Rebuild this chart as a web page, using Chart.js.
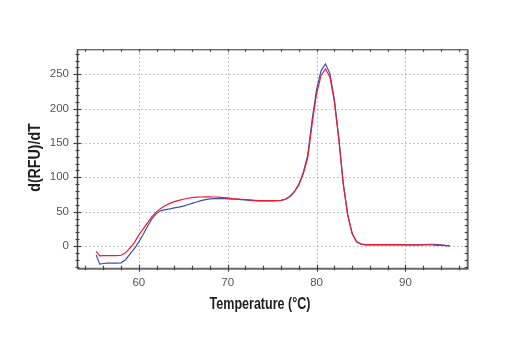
<!DOCTYPE html>
<html>
<head>
<meta charset="utf-8">
<script src="https://cdn.jsdelivr.net/npm/chart.js@4.4.1/dist/chart.umd.min.js"></script>
<style>
  html, body { margin: 0; padding: 0; background: #ffffff; }
  #wrap { width: 520px; height: 350px; position: relative; }
</style>
</head>
<body>
<div id="wrap"><canvas id="c" width="520" height="350"></canvas></div>
<script>
// Temperature (°C)
const temps = [55.2, 55.6,
  56.0, 56.5, 57.0, 57.5, 58.0, 58.5, 59.0, 59.5, 60.0, 60.5, 61.0, 61.5, 62.0, 62.5,
  63.0, 63.5, 64.0, 64.5, 65.0, 65.5, 66.0, 66.5, 67.0, 67.5, 68.0, 68.5, 69.0, 69.5,
  70.0, 70.5, 71.0, 71.5, 72.0, 72.5, 73.0, 73.5, 74.0, 74.5, 75.0, 75.5, 76.0, 76.5,
  77.0, 77.5, 78.0, 78.5, 79.0, 79.5, 80.0, 80.5, 81.0, 81.5, 82.0, 82.5, 83.0, 83.5,
  84.0, 84.5, 85.0,
  85.5, 86.0, 86.5, 87.0, 87.5, 88.0, 88.5, 89.0, 89.5,
  90.0, 90.5, 91.0, 91.5, 92.0, 92.5, 93.0,
  93.5, 94.0, 94.5, 95.0];

// d(RFU)/dT – red trace
const redValues = [-8, -14.5,
  -14, -14, -14, -14, -13.5, -10, -3, 5, 16, 25, 34, 43, 50, 55,
  59, 62, 64.5, 66.5, 68, 69.5, 70.5, 71, 71.3, 71.5, 71.5, 71.3, 71, 70.5,
  70, 69, 68.5, 68, 67.5, 67, 66.5, 66, 66, 66, 66, 66, 66.5, 68,
  72, 79, 89, 105, 128, 178, 222, 248, 258, 246, 210, 155, 90, 45,
  18, 6, 3,
  2, 2, 2, 2, 2, 2, 2, 2, 2,
  1.5, 1.5, 1.5, 1.5, 1.5, 1.5, 1.5,
  1, 1, 0.5, 0];

// d(RFU)/dT – blue trace
const blueValues = [-13, -26.5,
  -25.5, -25, -25, -25, -24.5, -20, -12, -4, 6, 17, 29, 40, 47.5, 51.5,
  53, 54, 55.5, 56.5, 58, 60, 62, 64, 66, 67.5, 68.5, 69, 69, 69,
  68.5, 68, 68, 67.5, 67, 66.5, 66, 65.5, 65.5, 65.5, 65.5, 66, 66.5, 68,
  72, 79, 90, 107, 132, 184, 228, 255, 265, 251, 213, 157, 91, 46,
  18, 6, 2.5,
  1.5, 1.5, 1.5, 1.5, 1.5, 1.5, 1.5, 1.5, 1.5,
  1.5, 1.5, 1.5, 1.5, 2, 2.5, 2.5,
  2, 1.5, 1, 0];

const xMajorTicks = [60, 70, 80, 90];
const yMajorTicks = [0, 50, 100, 150, 200, 250];
const xTitle = 'Temperature (°C)';
const yTitle = 'd(RFU)/dT';

const X_MIN = 53.1, X_MAX = 97.0, Y_MIN = -33.1, Y_MAX = 286.4;
const SANS = "'Liberation Sans', Arial, Helvetica, sans-serif";

const toXY = (vals) => temps.map((t, i) => ({ x: t, y: vals[i] }));

// draws a narrow (horizontally condensed) bold title, like the original's condensed face
function drawNarrowText(ctx, text, cx, cy, rotation, squeeze) {
  ctx.save();
  ctx.translate(cx, cy);
  ctx.rotate(rotation);
  ctx.scale(squeeze, 1);
  ctx.font = "bold 16.5px " + SANS;
  ctx.fillStyle = '#1e1e1e';
  ctx.textAlign = 'center';
  ctx.textBaseline = 'middle';
  ctx.fillText(text, 0, 0);
  ctx.restore();
}

const frameAndGrid = {
  id: 'frameAndGrid',
  beforeDatasetsDraw(chart) {
    const { ctx, chartArea: a, scales: { x, y } } = chart;
    ctx.save();
    ctx.strokeStyle = '#8a8a8a';
    ctx.lineWidth = 1;
    ctx.setLineDash([1, 3]);
    xMajorTicks.forEach(v => {
      const px = Math.round(x.getPixelForValue(v)) + 0.5;
      ctx.beginPath(); ctx.moveTo(px, a.top); ctx.lineTo(px, a.bottom); ctx.stroke();
    });
    yMajorTicks.forEach(v => {
      const py = Math.round(y.getPixelForValue(v)) + 0.5;
      ctx.beginPath(); ctx.moveTo(a.left, py); ctx.lineTo(a.right, py); ctx.stroke();
    });
    ctx.restore();
  },
  afterDatasetsDraw(chart) {
    const { ctx, chartArea: a, scales: { x, y } } = chart;
    ctx.save();
    ctx.setLineDash([]);
    ctx.strokeStyle = '#333';
    ctx.lineWidth = 1;
    ctx.beginPath(); ctx.moveTo(a.left, a.top + 0.5); ctx.lineTo(a.right, a.top + 0.5); ctx.stroke();
    ctx.strokeStyle = '#444';
    ctx.lineWidth = 1.5;
    ctx.beginPath(); ctx.moveTo(a.left, a.top); ctx.lineTo(a.left, a.bottom); ctx.stroke();
    ctx.strokeStyle = '#6a6a6a';
    ctx.lineWidth = 2;
    ctx.beginPath(); ctx.moveTo(a.left, a.bottom); ctx.lineTo(a.right + 1, a.bottom); ctx.stroke();
    ctx.beginPath(); ctx.moveTo(a.right, a.top); ctx.lineTo(a.right, a.bottom); ctx.stroke();
    ctx.lineWidth = 1.2;
    ctx.strokeStyle = '#444';
    for (let v = 54; v <= 96; v += 2) {
      const px = Math.round(x.getPixelForValue(v)) + 0.5;
      const major = v % 10 === 0;
      ctx.beginPath();
      ctx.moveTo(px, a.bottom - (major ? 4 : 3));
      ctx.lineTo(px, a.bottom + (major ? 3 : 1.5));
      ctx.stroke();
      ctx.beginPath();
      ctx.moveTo(px, a.top);
      ctx.lineTo(px, a.top + 2.5);
      ctx.stroke();
    }
    for (let v = -30; v <= 280; v += 10) {
      const py = Math.round(y.getPixelForValue(v)) + 0.5;
      const major = v % 50 === 0;
      ctx.beginPath();
      ctx.moveTo(a.left - (major ? 4 : 2), py);
      ctx.lineTo(a.left + (major ? 3.5 : 2), py);
      ctx.stroke();
      ctx.beginPath();
      ctx.moveTo(a.right - 3, py);
      ctx.lineTo(a.right, py);
      ctx.stroke();
    }
    ctx.restore();
  },
  afterDraw(chart) {
    const { ctx, chartArea: a } = chart;
    drawNarrowText(ctx, xTitle, 260, 304.5, 0, 0.76);
    drawNarrowText(ctx, yTitle, 35.5, 157.5, -Math.PI / 2, 0.86);
  }
};

new Chart(document.getElementById('c'), {
  type: 'line',
  data: {
    datasets: [
      { label: 'Red', data: toXY(redValues), borderColor: '#ec1c2e', borderWidth: 1.2, pointRadius: 0, fill: false, tension: 0 },
      { label: 'Blue', data: toXY(blueValues), borderColor: '#3b4db8', borderWidth: 1.2, pointRadius: 0, fill: false, tension: 0 }
    ]
  },
  options: {
    responsive: false,
    animation: false,
    devicePixelRatio: 1,
    layout: { padding: { left: 0, top: 49.3, right: 52.3, bottom: 0 } },
    plugins: { legend: { display: false }, tooltip: { enabled: false } },
    scales: {
      x: {
        type: 'linear', min: X_MIN, max: X_MAX,
        afterFit(s) { s.height = 81.3; },
        afterBuildTicks(s) { s.ticks = xMajorTicks.map(v => ({ value: v })); },
        grid: { display: false, drawTicks: false },
        border: { display: false },
        ticks: { color: '#555', padding: 7, font: { family: SANS, size: 11.5 }, maxRotation: 0 },
        title: { display: false, text: xTitle }
      },
      y: {
        type: 'linear', min: Y_MIN, max: Y_MAX,
        afterFit(s) { s.width = 77.5; },
        afterBuildTicks(s) { s.ticks = yMajorTicks.map(v => ({ value: v })); },
        grid: { display: false, drawTicks: false },
        border: { display: false },
        ticks: { color: '#555', padding: 8.5, font: { family: SANS, size: 11.5 } },
        title: { display: false, text: yTitle }
      }
    }
  },
  plugins: [frameAndGrid]
});
</script>
</body>
</html>
